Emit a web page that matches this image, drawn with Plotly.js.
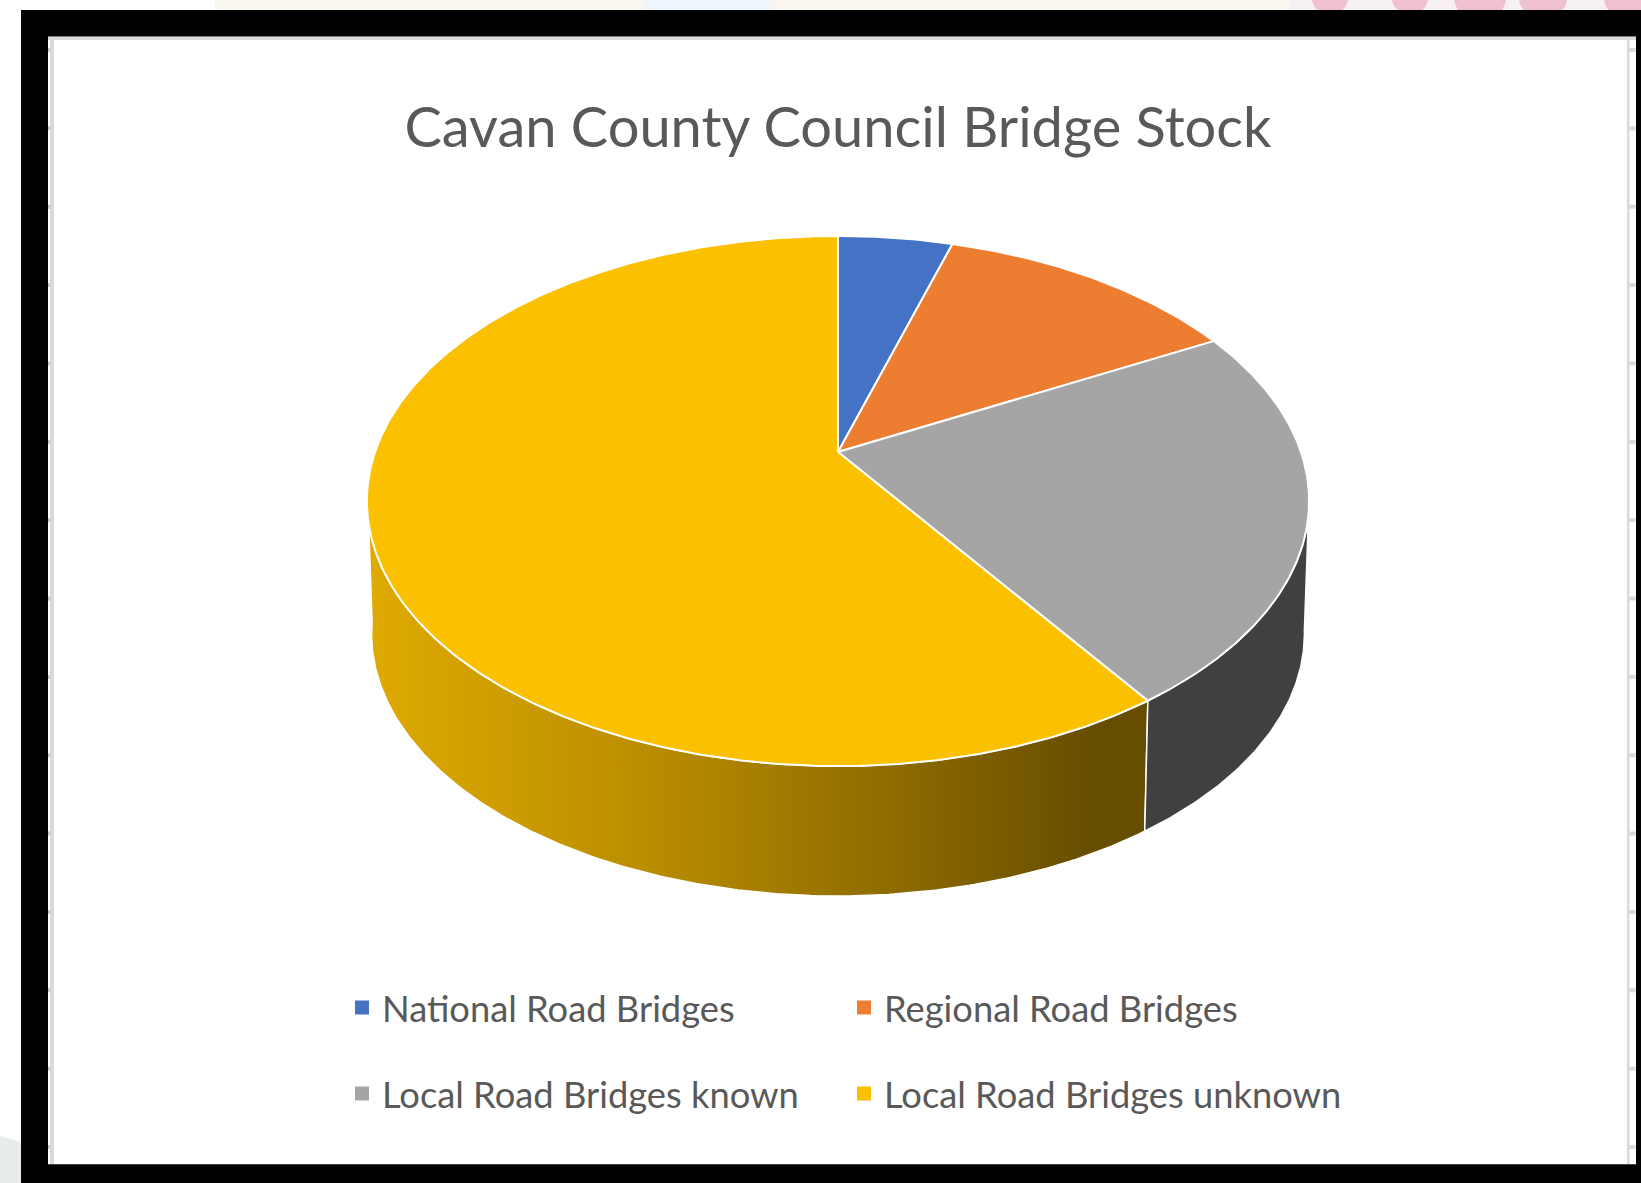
<!DOCTYPE html>
<html>
<head>
<meta charset="utf-8">
<script src="https://cdn.plot.ly/plotly-3.0.1.min.js"></script>
<style>html,body{margin:0;padding:0;background:#fff;overflow:hidden}#chart{width:1641px;height:1183px}</style>
</head>
<body>
<div id="chart"></div>
<script>
// ---- data ----
const chartTitle = 'Cavan County Council Bridge Stock';
const categories = ['National Road Bridges', 'Regional Road Bridges', 'Local Road Bridges known', 'Local Road Bridges unknown'];
const bridgeShare = [4.7, 12.5, 23.2, 59.6];
const topColors = ['#4472C4', '#ED7D31', '#A5A5A5', '#FBC000'];
const legendRows = ['legend', 'legend', 'legend2', 'legend2'];

// ---- perspective model of the disc (pixel-like axes) ----
const apex = {x: 838, y: 452};
const A = 463, B = 256, P = -0.185;
const wallDrop = 133, wallScale = 0.99;

function project(deg, lower) {
  const t = deg * Math.PI / 180, u = Math.sin(t), w = -Math.cos(t), d = 1 + P * w;
  const s = lower ? wallScale : 1, dy = lower ? wallDrop : 0;
  return [apex.x + s * A * u / d, apex.y + dy + s * B * w / d];
}
function arc(from, to, lower) {
  const n = Math.max(2, Math.ceil(Math.abs(to - from) * 2)), out = [];
  for (let i = 0; i <= n; i++) out.push(project(from + (to - from) * i / n, lower));
  return out;
}
const total = bridgeShare.reduce((a, b) => a + b, 0);
const edges = [0];
bridgeShare.forEach(v => edges.push(edges[edges.length - 1] + v / total * 360));

function wallTrace(from, to, fillProps) {
  const pts = arc(from, to, false).concat(arc(to, from, true));
  pts.push(pts[0]);
  return Object.assign({
    type: 'scatter', mode: 'lines', x: pts.map(p => p[0]), y: pts.map(p => p[1]),
    fill: 'toself', line: {color: '#ffffff', width: 1.5}, showlegend: false, hoverinfo: 'skip'
  }, fillProps);
}

const traces = [];
// side walls: the unknown-share slice and the known-share slice
traces.push(wallTrace(edges[3], 262, {
  fillgradient: {type: 'horizontal', colorscale: [[0, '#DFAA00'], [0.35, '#BB8E00'], [0.7, '#8A6800'], [0.93, '#664D00'], [1, '#664D00']]},
  fillcolor: '#AA8000'
}));
traces.push(wallTrace(100, edges[3], {fillcolor: '#404040'}));
// top faces
bridgeShare.forEach((v, i) => {
  const pts = [[apex.x, apex.y]].concat(arc(edges[i], edges[i + 1], false));
  pts.push([apex.x, apex.y]);
  traces.push({
    type: 'scatter', mode: 'lines', name: categories[i],
    x: pts.map(p => p[0]), y: pts.map(p => p[1]),
    fill: 'toself', fillcolor: topColors[i],
    line: {color: '#ffffff', width: 2}, showlegend: false,
    hovertemplate: categories[i] + ': ' + v + '<extra></extra>'
  });
});
// legend entries
categories.forEach((c, i) => traces.push({
  type: 'scatter', mode: 'markers', name: c, x: [null], y: [null],
  marker: {symbol: 'square', size: 14, color: topColors[i]},
  legend: legendRows[i], showlegend: true, hoverinfo: 'skip'
}));

// ---- frame and backdrop shapes ----
const rect = (x0, y0, x1, y1, c) => ({type: 'rect', xref: 'x', yref: 'y', layer: 'below', x0, y0, x1, y1, fillcolor: c, line: {width: 0}});
const blob = (x, r, c) => ({type: 'circle', xref: 'x', yref: 'y', layer: 'below', x0: x - r, x1: x + r, y0: -r, y1: r * 0.8, fillcolor: c, line: {width: 0}});
const shapes = [
  rect(215, 0, 1290, 10, '#F8F6EF'),
  rect(645, 0, 770, 10, '#EEF6FD'),
  rect(1290, 0, 1641, 10, '#F7F1F1'),
  blob(1410, 18, '#EFBFD2'), blob(1480, 26, '#EFBFD2'), blob(1543, 24, '#EFBFD2'), blob(1630, 26, '#EFBFD2'), blob(1330, 18, '#EFBFD2'),
  {type: 'path', xref: 'x', yref: 'y', layer: 'below', path: 'M0,1136 L21,1142 L21,1183 L0,1183 Z', fillcolor: '#E8ECEC', line: {width: 0}},
  rect(21, 10, 1641, 1183, '#000000'),
  rect(48, 36, 1636, 1164, '#FFFFFF'),
  rect(48, 36, 1636, 37, '#808080'),
  rect(48, 1164, 1636, 1165, '#404040'),
  rect(48, 37, 1636, 40, '#D9D9D9'),
  rect(50, 37, 54, 1164, '#D9D9D9'),
  rect(1627, 37, 1629.5, 1164, '#D9D9D9')
];
for (let k = 0; k < 15; k++) {
  const y = 50 + k * 78.36;
  shapes.push(rect(48, y - 2, 50, y + 2, '#C8C8C8'));
  shapes.push(rect(1629, y - 2, 1635.5, y + 2, '#D9D9D9'));
}

const legendBase = {
  orientation: 'h', xanchor: 'left', yanchor: 'middle', bgcolor: 'rgba(0,0,0,0)',
  entrywidth: 457, entrywidthmode: 'pixels', itemclick: false, itemdoubleclick: false,
  font: {family: 'Lato, "Liberation Sans", sans-serif', size: 36.3, color: '#595959'}
};

const layout = {
  width: 1641, height: 1183,
  margin: {l: 0, r: 0, t: 0, b: 0},
  paper_bgcolor: '#ffffff', plot_bgcolor: 'rgba(0,0,0,0)',
  title: {
    text: chartTitle, x: 838 / 1641, xanchor: 'center', xref: 'paper', y: 1 - 127 / 1183, yanchor: 'middle', yref: 'paper',
    font: {family: 'Lato, "Liberation Sans", sans-serif', size: 56, color: '#595959'}
  },
  xaxis: {range: [0, 1641], visible: false, fixedrange: true},
  yaxis: {range: [1183, 0], visible: false, fixedrange: true},
  shapes,
  showlegend: true,
  legend: Object.assign({}, legendBase, {x: 342 / 1641, y: 1 - 1008 / 1183}),
  legend2: Object.assign({}, legendBase, {x: 342 / 1641, y: 1 - 1094 / 1183})
};
Plotly.newPlot('chart', traces, layout, {displayModeBar: false, responsive: false});
</script>
</body>
</html>
